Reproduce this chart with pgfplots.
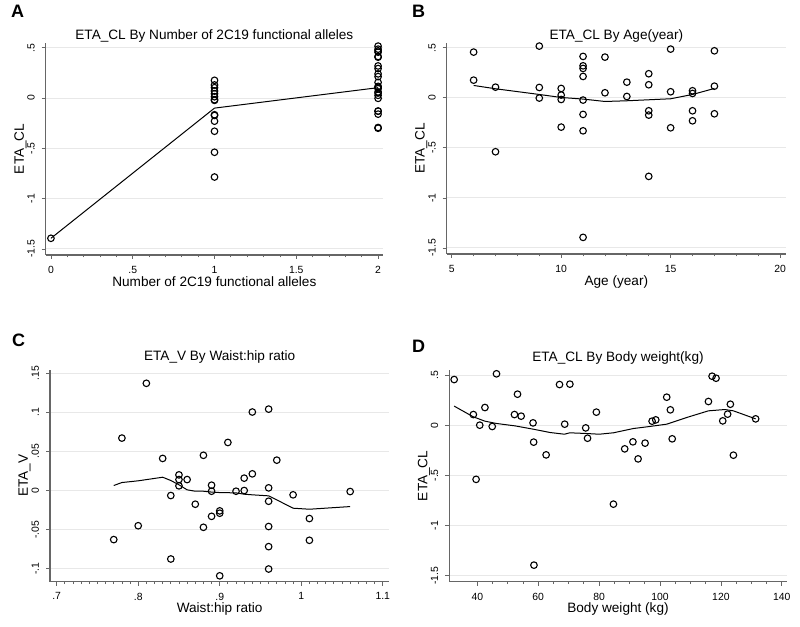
\documentclass[border=0pt]{standalone}
\usepackage{pgfplots}
\pgfplotsset{compat=1.18}
\usepackage{fontspec}
\setmainfont{Liberation Sans}

\newcommand\tickfont{\fontsize{5.2pt}{6pt}\selectfont}
\newcommand\labfont{\fontsize{6.8pt}{8pt}\selectfont}

\pgfplotsset{
  stata/.style={
    scale only axis,
    anchor=south west,
    axis x line*=bottom,
    axis y line*=left,
    axis line style={-, black!60, line width=0.55pt},
    ymajorgrids,
    grid style={black!9, line width=0.5pt},
    tick style={black!60, line width=0.4pt},
    major tick length=2pt,
    minor tick length=1.2pt,
    tick align=outside,
    xticklabel style={font=\tickfont},
    yticklabel style={font=\tickfont, rotate=90, anchor=south},
    title style={font=\labfont, at={(0.5,1)}, anchor=base},
    xlabel style={font=\labfont, at={(axis description cs:0.5,0)}, anchor=base, yshift=-15.6pt},
    ylabel style={font=\labfont, at={(axis description cs:-0.075,0.5)}, anchor=center},
    clip=false,
  },
  pts/.style={only marks, mark=o, mark size=1.65pt, mark options={line width=0.55pt, draw=black}},
  fit/.style={no marks, black, line width=0.5pt},
  etacl/.style={ymin=-1.56, ymax=0.55, ytick={-1.5,-1,-0.5,0,0.5}, yticklabels={-1.5,-1,-.5,0,.5}},
}

\begin{document}
\begin{tikzpicture}
\useasboundingbox (0,0) rectangle (400pt,313.5pt);

% A
\begin{axis}[stata, etacl, at={(22.85pt,186pt)}, width=168.65pt, height=106.15pt,
  xmin=-0.032, xmax=2.03, xtick={0,0.5,1,1.5,2}, xticklabels={0,.5,1,1.5,2}, minor x tick num=4,
  title={ETA\_CL By Number of 2C19 functional alleles}, title style={yshift=-4.5pt},
  xlabel={Number of 2C19 functional alleles}, ylabel={ETA\_CL}]
\addplot[pts] coordinates {
 (0,-1.394)
 (1,-0.785) (1,-0.539) (1,-0.33) (1,-0.23) (1,-0.173) (1,-0.166) (1,-0.023)
 (1,-0.017) (1,0.013) (1,0.043) (1,0.07) (1,0.103) (1,0.13) (1,0.176)
 (2,-0.3) (2,-0.293) (2,-0.16) (2,-0.13) (2,-0.13) (2,-0.003) (2,0.027) (2,0.05)
 (2,0.06) (2,0.093) (2,0.106) (2,0.116) (2,0.156) (2,0.213) (2,0.24) (2,0.293)
 (2,0.319) (2,0.406) (2,0.413) (2,0.456) (2,0.469) (2,0.486) (2,0.516)};
\addplot[fit] coordinates {(0,-1.394) (1,-0.1) (2,0.103)};
\end{axis}

% B
\begin{axis}[stata, etacl, at={(223.35pt,186.5pt)}, width=169.65pt, height=105.65pt,
  xmin=4.77, xmax=20.27, xtick={5,10,15,20}, xticklabels={5,10,15,20}, minor x tick num=4,
  title={ETA\_CL By Age(year)}, title style={yshift=-4.5pt},
  xlabel={Age (year)}, ylabel={ETA\_CL}]
\addplot[pts] coordinates {
 (6,0.456) (6,0.176) (7,0.106) (7,-0.539)
 (9,0.516) (9,0.103) (9,-0.003)
 (10,0.093) (10,0.027) (10,-0.017) (10,-0.293)
 (11,0.413) (11,0.319) (11,0.293) (11,0.213) (11,-0.023) (11,-0.166) (11,-0.33) (11,-1.394)
 (12,0.406) (12,0.05) (13,0.156) (13,0.013)
 (14,0.24) (14,0.13) (14,-0.13) (14,-0.173) (14,-0.785)
 (15,0.486) (15,0.06) (15,-0.3)
 (16,0.07) (16,0.043) (16,-0.13) (16,-0.23)
 (17,0.469) (17,0.116) (17,-0.16)};
\addplot[fit] coordinates {(6,0.123) (7,0.09) (9,0.033) (10,0.003) (11,-0.013) (12,-0.037)
 (13,-0.03) (14,-0.02) (15,-0.01) (16,0.033) (17,0.093)};
\end{axis}

% C
\begin{axis}[stata, at={(25pt,22.65pt)}, width=169.65pt, height=105.85pt,
  xmin=0.6918, xmax=1.108, xtick={0.7,0.8,0.9,1,1.1}, xticklabels={.7,.8,.9,1,1.1}, minor x tick num=9,
  ymin=-0.1165, ymax=0.154, ytick={-0.1,-0.05,0,0.05,0.1,0.15}, yticklabels={-.1,-.05,0,.05,.1,.15},
  title={ETA\_V By Waist:hip ratio}, title style={yshift=-1.5pt},
  xlabel={Waist:hip ratio}, ylabel={ETA\_V}]
\addplot[pts] coordinates {
 (0.77,-0.0627) (0.78,0.067) (0.80,-0.045) (0.81,0.137) (0.83,0.041)
 (0.84,-0.0064) (0.84,-0.0875) (0.85,0.020) (0.85,0.014) (0.85,0.006)
 (0.86,0.014) (0.87,-0.0175) (0.88,0.045) (0.88,-0.047)
 (0.89,0.0068) (0.89,-0.0009) (0.89,-0.033)
 (0.90,-0.026) (0.90,-0.029) (0.90,-0.109) (0.91,0.0614) (0.92,-0.0009)
 (0.93,0.0158) (0.93,0.0) (0.94,0.1003) (0.94,0.0213)
 (0.96,0.104) (0.96,0.0034) (0.96,-0.0137) (0.96,-0.046) (0.96,-0.0717) (0.96,-0.1003)
 (0.97,0.0388) (0.99,-0.0055) (1.01,-0.0358) (1.01,-0.0636) (1.06,-0.0013)};
\addplot[fit] coordinates {(0.77,0.0064) (0.78,0.0102) (0.80,0.0124) (0.83,0.017) (0.84,0.0128)
 (0.85,0.0073) (0.86,0.0009) (0.87,-0.0009) (0.88,-0.0009) (0.89,-0.002) (0.90,-0.0026)
 (0.92,-0.003) (0.93,-0.0047) (0.94,-0.0055) (0.96,-0.0068) (0.97,-0.012) (0.99,-0.0226)
 (1.01,-0.0239) (1.06,-0.0205)};
\end{axis}

% D
\begin{axis}[stata, etacl, at={(224.65pt,22.65pt)}, width=168.7pt, height=105.85pt,
  xmin=30.8, xmax=141.6, xtick={40,60,80,100,120,140}, xticklabels={40,60,80,100,120,140}, minor x tick num=3,
  title={ETA\_CL By Body weight(kg)}, title style={yshift=-1.5pt},
  xlabel={Body weight (kg)}, ylabel={ETA\_CL}]
\addplot[pts] coordinates {
 (32.4,0.455) (38.7,0.106) (40.8,0.0) (42.5,0.176) (39.6,-0.54) (44.9,-0.013)
 (46.3,0.512) (52.2,0.106) (53.2,0.309) (54.4,0.09) (58.3,0.023) (58.5,-0.169)
 (58.6,-1.395) (62.6,-0.296) (67.0,0.405) (70.4,0.409) (68.7,0.01) (75.6,-0.027)
 (76.2,-0.13) (79.1,0.13) (84.7,-0.787) (88.4,-0.236) (91.1,-0.166) (92.8,-0.336)
 (95.1,-0.179) (97.4,0.04) (98.6,0.053) (102.2,0.279) (103.4,0.153) (104.0,-0.136)
 (115.9,0.236) (117.1,0.488) (118.4,0.468) (120.6,0.043) (122.2,0.11) (123.1,0.209)
 (124.1,-0.299) (131.4,0.063)};
\addplot[fit] coordinates {(32.4,0.19) (38.7,0.083) (42.5,0.04) (46.3,0.017) (52.4,-0.007)
 (58.4,-0.04) (63.9,-0.073) (68.6,-0.09) (70.4,-0.076) (75.9,-0.083) (80,-0.09)
 (84.7,-0.076) (91.3,-0.033) (95.6,-0.017) (102.2,0.01) (108.7,0.076) (115.9,0.143)
 (121.3,0.156) (124.1,0.143) (131.4,0.063)};
\end{axis}

\node[font=\bfseries\fontsize{9pt}{10pt}\selectfont] at (8.75pt,307.75pt) {A};
\node[font=\bfseries\fontsize{9pt}{10pt}\selectfont] at (209.25pt,307.75pt) {B};
\node[font=\bfseries\fontsize{9pt}{10pt}\selectfont] at (9.25pt,143.25pt) {C};
\node[font=\bfseries\fontsize{9pt}{10pt}\selectfont] at (209.25pt,140.5pt) {D};
\end{tikzpicture}
\end{document}
